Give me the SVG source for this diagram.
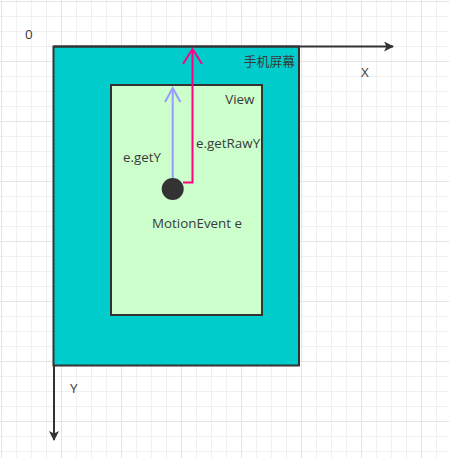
<svg xmlns="http://www.w3.org/2000/svg" width="449" height="458" viewBox="0 0 449 458">
<defs>
<pattern id="minor" width="15" height="15" patternUnits="userSpaceOnUse" x="1" y="1">
<path d="M0 0.5H15M0.5 0V15" fill="none" stroke="#f0f0f0" stroke-width="1"/>
</pattern>
<pattern id="major" width="60" height="60" patternUnits="userSpaceOnUse" x="1" y="1">
<path d="M0 0.5H60M0.5 0V60" fill="none" stroke="#e4e4e4" stroke-width="1"/>
</pattern>
<marker id="block" viewBox="0 0 10 10" refX="9" refY="5" markerWidth="5" markerHeight="5" orient="auto" markerUnits="strokeWidth">
<path d="M0 0L10 5L0 10L2.5 5Z" fill="#333"/>
</marker>
</defs>
<style>
.t{font-family:"Open Sans","Noto Sans CJK SC",Arial,sans-serif;font-size:13.4px;fill:#3a3a3a}
.box{stroke:#333;stroke-width:2}
</style>
<rect width="449" height="458" fill="#fff"/>
<rect width="449" height="458" fill="url(#minor)"/>
<rect width="449" height="458" fill="url(#major)"/>
<g id="screen">
<rect class="box" x="53.5" y="46.5" width="245.5" height="319" fill="#00cccc"/>
<text class="t" x="295" y="65.5" text-anchor="end" style="font-family:'Noto Sans CJK SC',sans-serif;font-size:12.8px">手机屏幕</text>
</g>
<g id="view">
<rect class="box" x="111" y="85" width="151" height="230" fill="#ccffcc"/>
<text class="t" x="254.5" y="104" text-anchor="end">View</text>
</g>
<g id="connectors">
<path d="M53.5 46.5H393" fill="none" stroke="#333" stroke-width="2" marker-end="url(#block)"/>
<path d="M54 365V440" fill="none" stroke="#333" stroke-width="2" marker-end="url(#block)"/>
<path d="M183 182.5H192.5V49" fill="none" stroke="#ff0080" stroke-width="2"/>
<path d="M183 64L192.5 49L202 64" fill="none" stroke="#ff0080" stroke-width="2"/>
<path d="M172.7 178V88" fill="none" stroke="#9999ff" stroke-width="2"/>
<path d="M165 102L172.7 88L180.4 102" fill="none" stroke="#9999ff" stroke-width="2"/>
</g>
<g id="event">
<circle cx="172.7" cy="189" r="11" fill="#333"/>
<text class="t" x="197" y="228" text-anchor="middle">MotionEvent e</text>
</g>
<g id="labels">
<text class="t" x="25" y="39">0</text>
<text class="t" x="361" y="77">X</text>
<text class="t" x="70" y="393">Y</text>
<text class="t" x="196" y="147.5">e.getRawY</text>
<text class="t" x="123" y="161.5">e.getY</text>
</g>
</svg>
